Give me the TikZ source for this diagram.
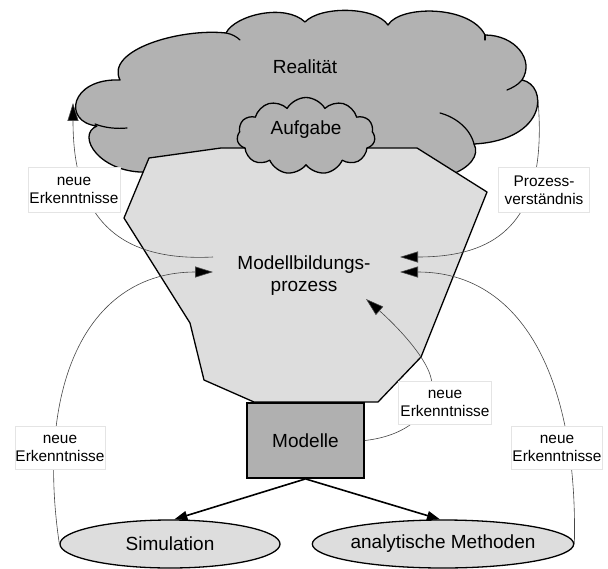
\documentclass[tikz,border=0pt]{standalone}
\usepackage{fontspec}
\setmainfont{Liberation Sans}
\usetikzlibrary{shapes.geometric,shapes.symbols,arrows.meta}
\definecolor{cloudgray}{RGB}{178,178,178}
\definecolor{polygray}{RGB}{221,221,221}
\definecolor{boxgray}{RGB}{176,176,176}
\definecolor{ellgray}{RGB}{221,221,221}
\definecolor{curvegray}{RGB}{70,70,70}
\definecolor{labelborder}{RGB}{228,228,228}
\tikzset{
  outline/.style={draw=black,line width=1.3bp,line join=round},
  maintext/.style={font=\fontsize{19bp}{22bp}\selectfont,align=center,inner sep=0pt},
  labelbox/.style={draw=labelborder,line width=0.6bp,fill=white,align=center,
    font=\fontsize{15.4bp}{18bp}\selectfont,inner sep=0pt},
  feedback/.style={draw=curvegray,line width=0.6bp,-{Triangle[length=18bp,width=11bp,fill=black]}},
  thickarrow/.style={draw=black,line width=1.6bp,-{Triangle[length=13bp,width=9bp]}},
  innerarc/.style={draw=black,line width=1.2bp,line cap=round}
}
\begin{document}
\begin{tikzpicture}[x=1bp,y=-1bp]
\useasboundingbox (0,0) rectangle (608,569);
% big cloud "Realitaet"
\path[outline,fill=cloudgray] (150,172) .. controls (100,175) and (75,135) .. (97,126)
 .. controls (62,122) and (70,78) .. (120,80)
 .. controls (105,50) and (180,28) .. (226,33)
 .. controls (235,15) and (285,3) .. (305,22)
 .. controls (320,6) and (375,6) .. (388,25)
 .. controls (400,5) and (470,5) .. (485,35)
 .. controls (515,35) and (535,60) .. (522,80)
 .. controls (548,85) and (548,140) .. (474,144)
 .. controls (480,155) and (470,168) .. (450,175) -- cycle;
\draw[innerarc] (95,124) .. controls (105,128) and (117,129) .. (127,128);
\draw[innerarc] (226,33) .. controls (232,34) and (237,37) .. (240,40);
\draw[innerarc] (485,35) -- (485,40);
\draw[innerarc] (522,80) .. controls (518,85) and (512,88) .. (507,90);
\draw[innerarc] (440,113) .. controls (455,117) and (470,128) .. (474,144);
\node[maintext] (realitaet) at (305,67) {Realität};
% polygon
\path[outline,fill=polygray] (149,158) -- (221,148) -- (417,148) -- (487,192) -- (421,357)
  -- (378,402) -- (254,402) -- (204,380) -- (190,323) -- (124,218) -- cycle;
% small cloud "Aufgabe"
\node[cloud,cloud puffs=11,cloud puff arc=120,outline,fill=cloudgray,minimum width=138bp,
  minimum height=77bp,inner sep=0pt] (aufgabe) at (306,136) {};
\node[maintext] (aufgabetext) at (306,130) {Aufgabe};
\node[maintext] (mbp) at (304,276) {Modellbildungs-\\prozess};
% Modelle box
\node[draw=black,line width=1.8bp,fill=boxgray,minimum width=117bp,minimum height=75bp,
  maintext] (modelle) at (305.5,440.5) {Modelle};
% ellipses
\node[ellipse,outline,fill=ellgray,minimum width=220bp,minimum height=48bp,maintext]
  (sim) at (170,544) {Simulation};
\node[ellipse,outline,fill=ellgray,minimum width=220bp,minimum height=48bp,maintext]
  (ana) at (443,544) {analytische Methoden};
% connector end points
\coordinate (cloudL) at (73,103);
\coordinate (cloudR) at (538,100);
\coordinate (mbpL1) at (213,257);
\coordinate (mbpL2) at (213,272);
\coordinate (mbpR1) at (400,257);
\coordinate (mbpR2) at (400,272);
\coordinate (mbpB) at (366,299);
% feedback curves
\draw[feedback] (mbpL1) .. controls (115,262) and (73,215) .. (cloudL);
\draw[feedback] (cloudR) .. controls (548,220) and (500,257) .. (mbpR1);
\draw[feedback] (sim.west) .. controls (35,380) and (90,272) .. (mbpL2);
\draw[feedback] (ana.east) .. controls (578,380) and (523,272) .. (mbpR2);
\draw[feedback] (modelle.east) .. controls (405,436) and (432,415) .. (432,385)
  .. controls (432,360) and (390,320) .. (mbpB);
% Modelle arrows
\draw[thickarrow] (modelle.south) -- (sim.80);
\draw[thickarrow] (modelle.south) -- (ana.97);
% labels
\node[labelbox,minimum width=92bp,minimum height=45bp] (l1) at (74,190) {neue\\Erkenntnisse};
\node[labelbox,minimum width=91bp,minimum height=45bp] (l2) at (544,190) {Prozess-\\verständnis};
\node[labelbox,minimum width=90bp,minimum height=43bp] (l3) at (60,448) {neue\\Erkenntnisse};
\node[labelbox,minimum width=91bp,minimum height=43bp] (l4) at (557,448) {neue\\Erkenntnisse};
\node[labelbox,minimum width=93bp,minimum height=43bp] (l5) at (445,403) {neue\\Erkenntnisse};
\end{tikzpicture}
\end{document}
